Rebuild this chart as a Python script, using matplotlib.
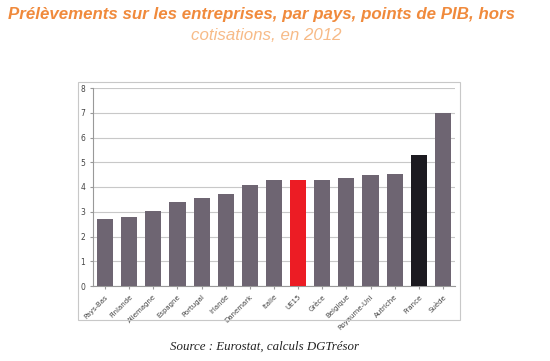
import matplotlib.pyplot as plt
from matplotlib.patches import Rectangle

# Données
pays = ['Pays-Bas', 'Finlande', 'Allemagne', 'Espagne', 'Portugal', 'Irlande',
        'Danemark', 'Italie', 'UE15', 'Grèce', 'Belgique', 'Royaume-Uni',
        'Autriche', 'France', 'Suède']
valeurs = [2.7, 2.77, 3.05, 3.4, 3.55, 3.72, 4.1, 4.3, 4.3, 4.3, 4.37, 4.48,
           4.52, 5.3, 7.0]

couleurs = []
for p in pays:
    if p == 'UE15':
        couleurs.append('#ec1c24')
    elif p == 'France':
        couleurs.append('#1c1a20')
    else:
        couleurs.append('#6e6572')

fig = plt.figure(figsize=(5.5, 3.61), dpi=100)

# cadre du graphique
fig.patches.append(Rectangle((78 / 550, 1 - 320 / 361), 382 / 550, 238 / 361,
                             transform=fig.transFigure, fill=False,
                             edgecolor='#c8c8c8', linewidth=0.8))

ax = fig.add_axes([93 / 550, 1 - 286 / 361, 362 / 550, 198 / 361])
ax.bar(range(len(pays)), valeurs, width=0.67, color=couleurs, zorder=3)
ax.set_ylim(0, 8)
ax.set_xlim(-0.5, len(pays) - 0.5)
ax.set_yticks(range(9))
ax.tick_params(axis='y', labelsize=5.5, length=2, color='#999999', labelcolor='#444444')
ax.set_xticks(range(len(pays)))
ax.set_xticklabels(pays, rotation=45, ha='right', rotation_mode='anchor')
ax.tick_params(axis='x', labelsize=5, length=2, color='#999999', labelcolor='#444444')
ax.grid(axis='y', color='#c8c8c8', linewidth=0.8, zorder=0)
for s in ['top', 'right']:
    ax.spines[s].set_visible(False)
ax.spines['left'].set_color('#999999')
ax.spines['bottom'].set_color('#999999')

fig.text(261 / 550, 1 - 15 / 361, 'Prélèvements sur les entreprises, par pays, points de PIB, hors',
         ha='center', va='center', fontsize=12.2, fontweight='bold', style='italic',
         color='#f08a3c', family='Liberation Sans')
fig.text(266 / 550, 1 - 36 / 361, 'cotisations, en 2012',
         ha='center', va='center', fontsize=12.2, style='italic',
         color='#f7bb88', family='Liberation Sans')
fig.text(264 / 550, 1 - 347 / 361, 'Source : Eurostat, calculs DGTrésor',
         ha='center', va='center', fontsize=9.3, style='italic',
         color='#222222', family='Liberation Serif')

fig.savefig('out.png', dpi=100)
